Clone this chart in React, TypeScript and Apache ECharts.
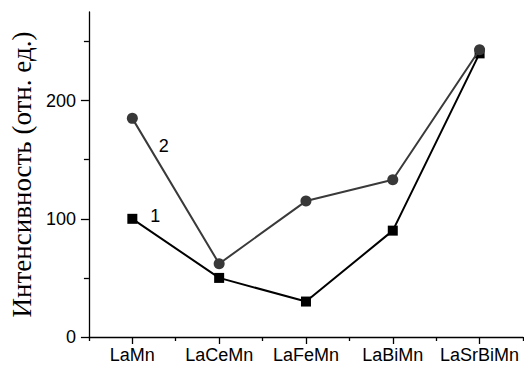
import React, { useEffect, useRef } from "react";
import * as echarts from "echarts";

// Compounds along the horizontal axis
const compounds = ["LaMn", "LaCeMn", "LaFeMn", "LaBiMn", "LaSrBiMn"];
// Curve 1 (squares) and curve 2 (circles), intensity in arbitrary units
const curve1 = [100, 50, 30, 90, 240];
const curve2 = [185, 62, 115, 133, 243];
// Vertical axis ticks
const majorTicks = [0, 100, 200];
const minorTicks = [50, 150, 250];
const yMax = 275;

const axisColor = "#000";
const sans = "Liberation Sans, Arial, sans-serif";

export default function App() {
  const ref = useRef<HTMLDivElement>(null);

  useEffect(() => {
    if (!ref.current) return;
    const chart = echarts.init(ref.current, null, { renderer: "svg" });
    chart.setOption({
      animation: false,
      backgroundColor: "#fff",
      grid: { left: 86, right: 1, top: 12, bottom: 28, containLabel: false },
      xAxis: [
        {
          type: "category",
          data: compounds,
          boundaryGap: true,
          axisLine: { show: true, lineStyle: { color: axisColor, width: 1.3 } },
          axisTick: { show: true, alignWithLabel: true, interval: 0, length: 7, lineStyle: { color: axisColor, width: 1.3 } },
          axisLabel: { color: "#000", fontFamily: sans, fontSize: 18, margin: 9, interval: 0, hideOverlap: false },
          splitLine: { show: false },
        },
        {
          type: "category",
          data: compounds,
          boundaryGap: true,
          position: "bottom",
          axisLine: { show: false },
          axisTick: { show: true, alignWithLabel: false, interval: 0, length: 4, lineStyle: { color: axisColor, width: 1.3 } },
          axisLabel: { show: false },
          splitLine: { show: false },
        },
      ],
      yAxis: [
        {
          type: "value",
          min: 0,
          max: yMax,
          name: "Интенсивность (отн. ед.)",
          nameLocation: "middle",
          nameGap: 53,
          nameTextStyle: { color: "#000", fontFamily: "Liberation Serif, Times New Roman, serif", fontSize: 27 },
          axisLine: { show: true, lineStyle: { color: axisColor, width: 1.3 } },
          axisTick: { show: true, length: 8, customValues: majorTicks, lineStyle: { color: axisColor, width: 1.3 } },
          axisLabel: { color: "#000", fontFamily: sans, fontSize: 18, margin: 13, customValues: majorTicks },
          splitLine: { show: false },
        },
        {
          type: "value",
          min: 0,
          max: yMax,
          position: "left",
          axisLine: { show: false },
          axisTick: { show: true, length: 5, customValues: minorTicks, lineStyle: { color: axisColor, width: 1.3 } },
          axisLabel: { show: false, customValues: minorTicks },
          splitLine: { show: false },
        },
      ],
      series: [
        {
          type: "line",
          data: curve1.map((v, i) =>
            i === 0
              ? {
                  value: v,
                  label: {
                    show: true,
                    formatter: "1",
                    position: "right",
                    offset: [8, -3],
                    color: "#000",
                    fontFamily: sans,
                    fontSize: 18,
                  },
                }
              : v
          ),
          symbol: "rect",
          symbolSize: 10,
          showAllSymbol: true,
          lineStyle: { color: "#000", width: 2 },
          itemStyle: { color: "#000" },
          z: 3,
        },
        {
          type: "line",
          data: curve2.map((v, i) =>
            i === 0
              ? {
                  value: v,
                  label: {
                    show: true,
                    formatter: "2",
                    position: "right",
                    offset: [16, 28],
                    color: "#000",
                    fontFamily: sans,
                    fontSize: 18,
                  },
                }
              : v
          ),
          symbol: "circle",
          symbolSize: 11,
          showAllSymbol: true,
          lineStyle: { color: "#3a3a3a", width: 2 },
          itemStyle: { color: "#383838" },
          z: 4,
        },
      ],
    });
    return () => chart.dispose();
  }, []);

  return (
    <div
      ref={ref}
      style={{ position: "fixed", left: 0, top: 0, width: 524, height: 365, background: "#fff" }}
    />
  );
}
